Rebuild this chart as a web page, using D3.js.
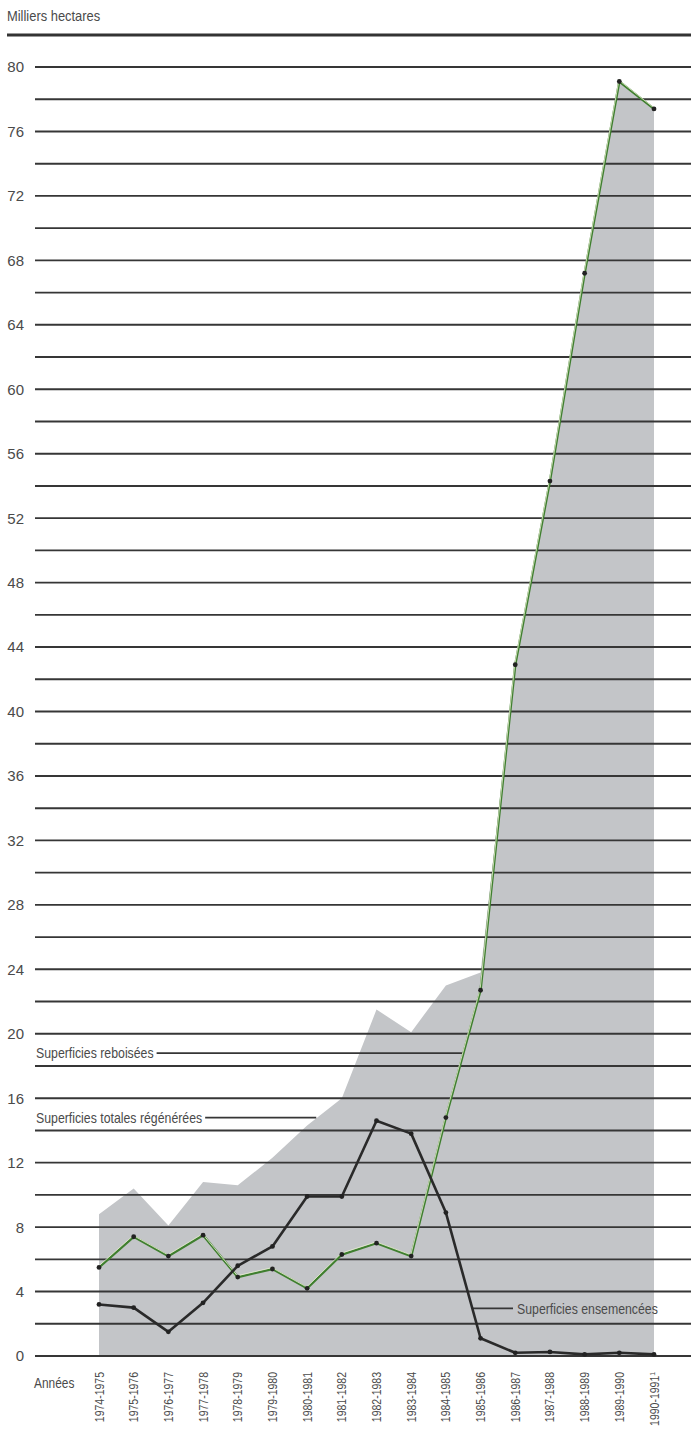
<!DOCTYPE html>
<html>
<head>
<meta charset="utf-8">
<script src="https://cdn.jsdelivr.net/npm/d3@7/dist/d3.min.js"></script>
<style>
  body { margin: 0; background: #fff; }
  svg { display: block; }
  text { font-family: 'Liberation Sans', sans-serif; fill: #4a4a4a; }
</style>
</head>
<body>
<div id="chart"></div>
<script>
// campagnes (axe des x)
var years = ['1974-1975', '1975-1976', '1976-1977', '1977-1978', '1978-1979', '1979-1980',
  '1980-1981', '1981-1982', '1982-1983', '1983-1984', '1984-1985', '1985-1986',
  '1986-1987', '1987-1988', '1988-1989', '1989-1990', '1990-1991']

// milliers d'hectares
var totales = [8.8, 10.4, 8.1, 10.8, 10.6, 12.3, 14.3, 16.0, 21.5, 20.1, 23.0, 23.8,
  43.1, 54.5, 67.3, 79.1, 77.5]
var reboisees = [5.5, 7.4, 6.2, 7.5, 4.9, 5.4, 4.2, 6.3, 7.0, 6.2, 14.8, 22.7,
  42.9, 54.3, 67.2, 79.1, 77.4]
var ensemencees = [3.2, 3.0, 1.5, 3.3, 5.6, 6.8, 9.9, 9.9, 14.6, 13.8, 8.9, 1.1,
  0.2, 0.25, 0.1, 0.2, 0.1]

var yTicks = [0, 4, 8, 12, 16, 20, 24, 28, 32, 36, 40, 44, 48, 52, 56, 60, 64, 68, 72, 76, 80]
var gridValues = d3.range(0, 81, 2)

var width = 691, height = 1431

var svg = d3.select('#chart').append('svg')
  .attr('width', width)
  .attr('height', height)

var x = d3.scalePoint().domain(years).range([99, 654])
var y = d3.scaleLinear().domain([0, 80]).range([1356, 67])

// pas de police étroite installée : on resserre le texte
function condense (sel, f) {
  sel.each(function () {
    var w = this.getComputedTextLength()
    d3.select(this)
      .attr('textLength', w * f)
      .attr('lengthAdjust', 'spacingAndGlyphs')
  })
  return sel
}

// titre de l'axe + filet
svg.append('text')
  .attr('x', 7)
  .attr('y', 21)
  .style('font-size', '15px')
  .text('Milliers hectares')
  .call(condense, 0.86)

svg.append('line')
  .attr('x1', 7).attr('x2', width)
  .attr('y1', 35).attr('y2', 35)
  .attr('stroke', '#333').attr('stroke-width', 3)

// surface des superficies totales
var area = d3.area()
  .x(function (d, i) { return x(years[i]) })
  .y0(y(0))
  .y1(function (d) { return y(d) })

svg.append('path')
  .datum(totales)
  .attr('d', area)
  .attr('fill', '#c3c5c8')

// quadrillage
svg.append('g')
  .selectAll('line')
  .data(gridValues)
  .enter().append('line')
  .attr('x1', 35).attr('x2', width)
  .attr('y1', function (d) { return y(d) })
  .attr('y2', function (d) { return y(d) })
  .attr('stroke', '#363636')
  .attr('stroke-width', 1.9)

svg.append('g')
  .selectAll('text')
  .data(yTicks)
  .enter().append('text')
  .attr('x', 24)
  .attr('y', function (d) { return y(d) })
  .attr('dy', '0.36em')
  .attr('text-anchor', 'end')
  .style('font-size', '15px')
  .text(function (d) { return d })

// étiquettes des années
svg.append('text')
  .attr('x', 34)
  .attr('y', 1388)
  .style('font-size', '14px')
  .text('Années')
  .call(condense, 0.85)

var xLabels = svg.append('g')
  .selectAll('text')
  .data(years)
  .enter().append('text')
  .attr('transform', function (d) { return 'translate(' + x(d) + ',1372) rotate(-90)' })
  .attr('text-anchor', 'end')
  .attr('dy', '0.36em')
  .style('font-size', '12.5px')
  .text(function (d) { return d })

xLabels.filter(function (d, i) { return i === years.length - 1 })
  .each(function (d) {
    var t = d3.select(this)
    t.text(null)
    t.append('tspan').text(d)
    t.append('tspan').attr('dy', '-0.5em').style('font-size', '8px').text('1')
  })

xLabels.call(condense, 0.84)

// point où un segment atteint une valeur donnée
function crossX (values, i, v) {
  var t = (v - values[i]) / (values[i + 1] - values[i])
  return x(years[i]) + t * (x(years[i + 1]) - x(years[i]))
}

function legend (label, value, tx, x1, x2) {
  var t = svg.append('text')
    .attr('x', tx)
    .attr('y', y(value))
    .attr('dy', '0.36em')
    .style('font-size', '15px')
    .text(label)
    .call(condense, 0.82)
  var len = +t.attr('textLength')
  if (x1 == null) x1 = tx + len + 3
  svg.append('line')
    .attr('x1', x1).attr('x2', x2)
    .attr('y1', y(value)).attr('y2', y(value))
    .attr('stroke', '#363636').attr('stroke-width', 1.8)
}

legend('Superficies reboisées', 18.8, 36, null, crossX(reboisees, 10, 18.8))
legend('Superficies totales régénérées', 14.8, 36, null, crossX(totales, 7, 14.8) - 18)
var ensX = crossX(ensemencees, 10, 2.95)
legend('Superficies ensemencées', 2.95, 517, ensX, 513)

// lignes
var line = d3.line()
  .x(function (d, i) { return x(years[i]) })
  .y(function (d) { return y(d) })

svg.append('path')
  .datum(reboisees)
  .attr('d', line)
  .attr('fill', 'none')
  .attr('stroke', '#3f7f2f')
  .attr('stroke-width', 2.4)

svg.append('path')
  .datum(reboisees)
  .attr('d', line)
  .attr('transform', 'translate(-0.4,-1.3)')
  .attr('fill', 'none')
  .attr('stroke', '#eef2d6')
  .attr('stroke-width', 0.8)

svg.append('path')
  .datum(ensemencees)
  .attr('d', line)
  .attr('fill', 'none')
  .attr('stroke', '#2a2a2a')
  .attr('stroke-width', 2.6)
  .attr('stroke-linejoin', 'round')

var dots = svg.append('g')
dots.selectAll('.dr')
  .data(reboisees)
  .enter().append('circle')
  .attr('class', 'dr')
  .attr('cx', function (d, i) { return x(years[i]) })
  .attr('cy', function (d) { return y(d) })
  .attr('r', 2.4)
  .attr('fill', '#222')

dots.selectAll('.de')
  .data(ensemencees)
  .enter().append('circle')
  .attr('class', 'de')
  .attr('cx', function (d, i) { return x(years[i]) })
  .attr('cy', function (d) { return y(d) })
  .attr('r', 2.4)
  .attr('fill', '#222')
</script>
</body>
</html>
